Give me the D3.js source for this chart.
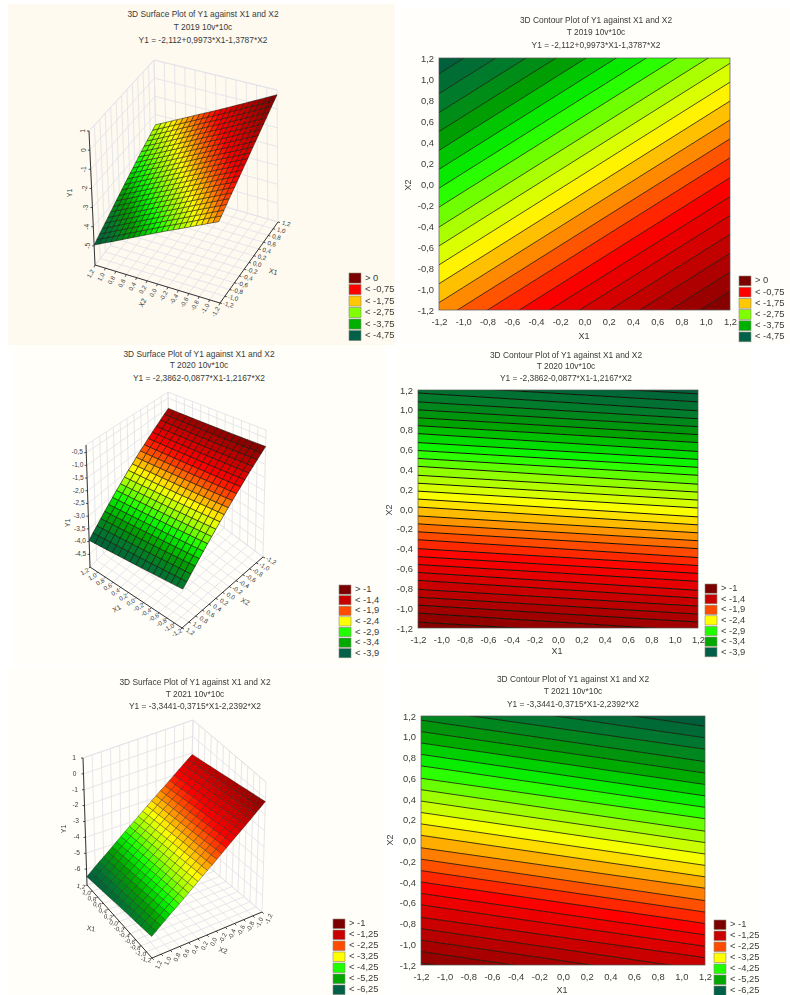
<!DOCTYPE html>
<html lang="en">
<head>
<meta charset="utf-8">
<title>Surface and contour plots of Y1 against X1 and X2</title>
<script src="https://d3js.org/d3.v7.min.js"></script>
<style>
  html, body { margin: 0; padding: 0; background: #fff; }
  svg { display: block; filter: blur(0.5px); font-family: "Liberation Sans", Arial, sans-serif; }
  text { fill: #3a3a3a; }
</style>
</head>
<body>
<svg id="chart" width="790" height="995"></svg>
<script>
// contour lines:
// level of the line, and its X2 where it meets the X1=-1,2 and X1=1,2 edges
var levels2019 = [-5, -4.75, -4.5, -4.25, -4, -3.75, -3.5, -3.25, -3, -2.75, -2.5, -2.25, -2, -1.75, -1.5, -1.25, -1, -0.75, -0.5, -0.25, 0, 0.25, 0.5, 0.75];
var left2019 = [1.23, 1.05, 0.86, 0.68, 0.5, 0.32, 0.14, -0.04, -0.22, -0.41, -0.59, -0.77, -0.95, -1.13, -1.31, -1.49, -1.68, -1.86, -2.04, -2.22, -2.4, -2.58, -2.76, -2.94];
var right2019 = [2.97, 2.79, 2.6, 2.42, 2.24, 2.06, 1.88, 1.7, 1.52, 1.33, 1.15, 0.97, 0.79, 0.61, 0.43, 0.25, 0.06, -0.12, -0.3, -0.48, -0.66, -0.84, -1.02, -1.2];

var levels2020 = [-4, -3.9, -3.8, -3.7, -3.6, -3.5, -3.4, -3.3, -3.2, -3.1, -3, -2.9, -2.8, -2.7, -2.6, -2.5, -2.4, -2.3, -2.2, -2.1, -2, -1.9, -1.8, -1.7, -1.6, -1.5, -1.4, -1.3, -1.2, -1.1, -1, -0.9, -0.8];
var left2020 = [1.41, 1.33, 1.25, 1.17, 1.08, 1, 0.92, 0.84, 0.76, 0.67, 0.59, 0.51, 0.43, 0.34, 0.26, 0.18, 0.1, 0.02, -0.07, -0.15, -0.23, -0.31, -0.4, -0.48, -0.56, -0.64, -0.72, -0.81, -0.89, -0.97, -1.05, -1.14, -1.22];
var right2020 = [1.24, 1.16, 1.08, 0.99, 0.91, 0.83, 0.75, 0.67, 0.58, 0.5, 0.42, 0.34, 0.25, 0.17, 0.09, 0.01, -0.08, -0.16, -0.24, -0.32, -0.4, -0.49, -0.57, -0.65, -0.73, -0.82, -0.9, -0.98, -1.06, -1.14, -1.23, -1.31, -1.39];

var levels2021 = [-6.5, -6.25, -6, -5.75, -5.5, -5.25, -5, -4.75, -4.5, -4.25, -4, -3.75, -3.5, -3.25, -3, -2.75, -2.5, -2.25, -2, -1.75, -1.5, -1.25, -1, -0.75, -0.5, -0.25, 0];
var left2021 = [1.61, 1.5, 1.39, 1.27, 1.16, 1.05, 0.94, 0.83, 0.72, 0.6, 0.49, 0.38, 0.27, 0.16, 0.05, -0.07, -0.18, -0.29, -0.4, -0.51, -0.62, -0.74, -0.85, -0.96, -1.07, -1.18, -1.29];
var right2021 = [1.21, 1.1, 0.99, 0.88, 0.76, 0.65, 0.54, 0.43, 0.32, 0.21, 0.09, -0.02, -0.13, -0.24, -0.35, -0.46, -0.58, -0.69, -0.8, -0.91, -1.02, -1.13, -1.25, -1.36, -1.47, -1.58, -1.69];

// tick labels
var xTicks = [-1.2, -1, -0.8, -0.6, -0.4, -0.2, 0, 0.2, 0.4, 0.6, 0.8, 1, 1.2];
var yTicks2019 = [1, 0, -1, -2, -3, -4, -5];
var yTicks2020 = [-0.5, -1, -1.5, -2, -2.5, -3, -3.5, -4, -4.5];
var yTicks2021 = [1, 0, -1, -2, -3, -4, -5, -6];

// legends
var legend2019 = ["> 0", "< -0,75", "< -1,75", "< -2,75", "< -3,75", "< -4,75"];
var legend2020 = ["> -1", "< -1,4", "< -1,9", "< -2,4", "< -2,9", "< -3,4", "< -3,9"];
var legend2021 = ["> -1", "< -1,25", "< -2,25", "< -3,25", "< -4,25", "< -5,25", "< -6,25"];

// titles
var title2019 = "T 2019 10v*10c", formula2019 = "Y1 = -2,112+0,9973*X1-1,3787*X2";
var title2020 = "T 2020 10v*10c", formula2020 = "Y1 = -2,3862-0,0877*X1-1,2167*X2";
var title2021 = "T 2021 10v*10c", formula2021 = "Y1 = -3,3441-0,3715*X1-2,2392*X2";

var svg = d3.select("#chart");
var comma = function(d) { return String(d).replace(".", ","); };
var comma1 = function(d) { return d.toFixed(1).replace(".", ","); };

// colour ramp over the level range of a plot
var ramp = d3.scaleLinear()
  .domain([0, 0.1, 0.2, 0.26, 0.31, 0.39, 0.49, 0.55, 0.62, 0.71, 0.85, 1])
  .range(["#00583f", "#007830", "#00a000", "#00d800", "#10ff00", "#90ff00", "#ffff00", "#ffb800", "#ff6000", "#ff0000", "#c00000", "#7d0000"]);

var swatches6 = ["#7d0000", "#ff0000", "#ffc800", "#80ff00", "#00b000", "#006048"];
var swatches7 = ["#7d0000", "#c80000", "#ff4c00", "#ffff00", "#20ff00", "#00a800", "#006048"];

// backgrounds of the pasted pictures
var backs = [
  [8, 4, 387, 341, "#fefaf0"], [400, 8, 390, 336, "#fffefa"],
  [14, 345, 372, 320, "#fffef9"], [398, 346, 352, 318, "#fffffb"],
  [8, 668, 377, 327, "#fffef9"], [400, 668, 360, 327, "#fffffb"]
];
svg.selectAll("rect.back").data(backs).enter().append("rect").attr("class", "back")
  .attr("x", function(d) { return d[0]; }).attr("y", function(d) { return d[1]; })
  .attr("width", function(d) { return d[2]; }).attr("height", function(d) { return d[3]; })
  .attr("fill", function(d) { return d[4]; });

function drawTitles(name, cx, ys, t, f) {
  svg.selectAll(null).data([name + " of Y1 against X1 and X2", t, f]).enter().append("text")
    .attr("x", cx).attr("y", function(d, i) { return ys[i]; })
    .attr("text-anchor", "middle").attr("dominant-baseline", "middle")
    .attr("font-size", 8.4).text(function(d) { return d; });
}

function drawLegend(labels, colors, o) {
  var g = svg.append("g");
  var row = g.selectAll("g").data(labels).enter().append("g")
    .attr("transform", function(d, i) { return "translate(" + o.x + "," + (o.y + i * o.step) + ")"; });
  row.append("rect").attr("width", 12).attr("height", o.step - 1.4)
    .attr("fill", function(d, i) { return colors[i]; })
    .attr("stroke", "#8a8a7a").attr("stroke-width", 0.6);
  row.append("text").attr("x", 16).attr("y", o.step / 2 - 0.6)
    .attr("dominant-baseline", "middle").attr("font-size", 9.4)
    .text(function(d) { return d; });
}

function drawContour(id, levels, left, right, o) {
  var x = d3.scaleLinear().domain([-1.2, 1.2]).range([o.x0, o.x1]);
  var y = d3.scaleLinear().domain([-1.2, 1.2]).range([o.y1, o.y0]);
  var extent = d3.extent(levels);
  var t = d3.scaleLinear().domain(extent).range([0, 1]);
  var line = d3.line().x(function(d) { return x(d[0]); }).y(function(d) { return y(d[1]); });

  svg.append("clipPath").attr("id", id).append("rect")
    .attr("x", o.x0).attr("y", o.y0).attr("width", o.x1 - o.x0).attr("height", o.y1 - o.y0);
  var g = svg.append("g").attr("clip-path", "url(#" + id + ")");

  // the bands, lowest level is top left of the plot
  var bands = d3.range(levels.length - 1);
  g.selectAll("path.band").data(bands).enter().append("path").attr("class", "band")
    .attr("d", function(i) {
      return line([[-1.2, left[i]], [1.2, right[i]], [1.2, right[i + 1]], [-1.2, left[i + 1]]]) + "Z";
    })
    .attr("fill", function(i) { return ramp(t((levels[i] + levels[i + 1]) / 2)); })
    .attr("stroke", function(i) { return ramp(t((levels[i] + levels[i + 1]) / 2)); })
    .attr("stroke-width", 0.3);

  g.selectAll("path.level").data(levels).enter().append("path").attr("class", "level")
    .attr("d", function(d, i) { return line([[-1.2, left[i]], [1.2, right[i]]]); })
    .attr("fill", "none").attr("stroke", "#141408").attr("stroke-width", o.lineWidth);

  svg.append("rect").attr("x", o.x0).attr("y", o.y0)
    .attr("width", o.x1 - o.x0).attr("height", o.y1 - o.y0)
    .attr("fill", "none").attr("stroke", "#555").attr("stroke-width", 0.7);

  var ax = svg.append("g").attr("transform", "translate(0," + o.y1 + ")")
    .call(d3.axisBottom(x).tickValues(xTicks).tickSize(0).tickPadding(8).tickFormat(comma1));
  var ay = svg.append("g").attr("transform", "translate(" + o.x0 + ",0)")
    .call(d3.axisLeft(y).tickValues(xTicks).tickSize(0).tickPadding(5).tickFormat(comma1));
  [ax, ay].forEach(function(a) {
    a.attr("font-family", null).attr("font-size", null);
    a.select(".domain").remove();
    a.selectAll("text").attr("font-size", 9.4);
  });

  svg.append("text").attr("x", o.lx[0]).attr("y", o.lx[1]).attr("text-anchor", "middle")
    .attr("dominant-baseline", "middle").attr("font-size", 9).text("X1");
  svg.append("text").attr("text-anchor", "middle").attr("dominant-baseline", "middle")
    .attr("font-size", 9)
    .attr("transform", "translate(" + o.ly[0] + "," + o.ly[1] + ") rotate(-90)").text("X2");
}

function drawSurface(id, levels, left, right, yTicks, o) {
  var extent = d3.extent(levels);
  var t = d3.scaleLinear().domain(extent).range([0, 1]);
  var w = d3.scaleLinear().domain(o.yDomain).range([0, 1]);
  // a runs from box corner A to B, b from B to C
  var aScale = d3.scaleLinear().domain(o.aDomain).range([0, 1]);
  var bScale = d3.scaleLinear().domain(o.bDomain).range([0, 1]);

  function project(a, b, h) {
    var q = [0, 1].map(function(k) {
      var f = o.floor, c = o.top;
      var p0 = f[0][k] * (1 - a) * (1 - b) + f[1][k] * a * (1 - b) + f[2][k] * a * b + f[3][k] * (1 - a) * b;
      var p1 = c[0][k] * (1 - a) * (1 - b) + c[1][k] * a * (1 - b) + c[2][k] * a * b + c[3][k] * (1 - a) * b;
      return p0 + (p1 - p0) * h;
    });
    return q;
  }

  // height of the surface, walking through the contour lines
  function heightAt(a, b) {
    var av = aScale.invert(a), bv = bScale.invert(b);
    var x1 = o.aAxis == "x1" ? av : bv;
    var x2 = o.aAxis == "x1" ? bv : av;
    var f = (x1 + 1.2) / 2.4;
    var cross = left.map(function(l, i) { return l + (right[i] - l) * f; });
    return d3.scaleLinear().domain(cross).range(levels)(x2);
  }

  var line = d3.line();
  var g = svg.append("g");

  // walls and floor
  var aT = xTicks.map(function(d) { return aScale(d); });
  var bT = xTicks.map(function(d) { return bScale(d); });
  var gridPaths = [];
  bT.forEach(function(b) {
    gridPaths.push([project(0, b, 0), project(1, b, 0)]);
    gridPaths.push([project(0, b, 0), project(0, b, 1)]);
  });
  aT.forEach(function(a) {
    gridPaths.push([project(a, 0, 0), project(a, 1, 0)]);
    gridPaths.push([project(a, 1, 0), project(a, 1, 1)]);
  });
  yTicks.concat(o.yDomain).forEach(function(d) {
    gridPaths.push([project(0, 0, w(d)), project(0, 1, w(d)), project(1, 1, w(d))]);
  });
  g.selectAll("path.grid").data(gridPaths).enter().append("path").attr("class", "grid")
    .attr("d", line).attr("fill", "none").attr("stroke", "#e2e2e8").attr("stroke-width", 0.85);

  // surface cells
  var cells = [];
  d3.range(o.cells[0]).forEach(function(i) {
    d3.range(o.cells[1]).forEach(function(j) { cells.push([i, j]); });
  });
  var na = o.cells[0], nb = o.cells[1];
  g.selectAll("path.cell").data(cells).enter().append("path").attr("class", "cell")
    .attr("d", function(c) {
      var a0 = c[0] / na, a1 = (c[0] + 1) / na, b0 = c[1] / nb, b1 = (c[1] + 1) / nb;
      return line([[a0, b0], [a1, b0], [a1, b1], [a0, b1]].map(function(p) {
        return project(p[0], p[1], w(heightAt(p[0], p[1])));
      })) + "Z";
    })
    .attr("fill", function(c) {
      return ramp(t(heightAt((c[0] + 0.5) / na, (c[1] + 0.5) / nb)));
    })
    .attr("stroke", "#141408").attr("stroke-width", o.mesh);

  // axes
  var dark = "#222";
  var axes = [
    { p: [project(0, 0, 0), project(0, 0, 1)] },
    { p: [project(0, 0, 0), project(1, 0, 0)] },
    { p: [project(1, 0, 0), project(1, 1, 0)] }
  ];
  g.selectAll("path.axis").data(axes).enter().append("path").attr("class", "axis")
    .attr("d", function(d) { return line(d.p); })
    .attr("fill", "none").attr("stroke", dark).attr("stroke-width", 0.9);

  function tickLabel(x, y, rot, txt, size) {
    g.append("text").attr("text-anchor", "middle").attr("dominant-baseline", "middle")
      .attr("font-size", size).attr("transform", "translate(" + x + "," + y + ") rotate(" + rot + ")")
      .text(txt);
  }

  xTicks.forEach(function(d) {
    var p = project(aScale(d), 0, 0);
    var q = project(1, bScale(d), 0);
    g.append("path").attr("d", line([p, [p[0] + o.aOff[0] * 0.25, p[1] + o.aOff[1] * 0.25]]))
      .attr("stroke", dark).attr("stroke-width", 0.8);
    g.append("path").attr("d", line([q, [q[0] + o.bOff[0] * 0.25, q[1] + o.bOff[1] * 0.25]]))
      .attr("stroke", dark).attr("stroke-width", 0.8);
    tickLabel(p[0] + o.aOff[0], p[1] + o.aOff[1], o.aRot, comma1(d), 6.2);
    tickLabel(q[0] + o.bOff[0], q[1] + o.bOff[1], o.bRot, comma1(d), 6.2);
  });

  yTicks.forEach(function(d) {
    var p = project(0, 0, w(d));
    g.append("path").attr("d", line([p, [p[0] - 2, p[1]]])).attr("stroke", dark).attr("stroke-width", 0.8);
    tickLabel(p[0] - o.yGap, p[1], o.yRot, o.yFormat(d), 6.6);
  });

  o.names.forEach(function(n) {
    tickLabel(n[1], n[2], n[3], n[0], 7);
  });
}

// panel layout
drawTitles("3D Surface Plot", 203, [15, 28, 41], title2019, formula2019);
drawSurface("s2019", levels2019, left2019, right2019, yTicks2019, {
  floor: [[95, 265], [220, 303], [278, 222], [157, 187]],
  top: [[89, 131], [218, 172], [277, 90], [154, 60]],
  yDomain: [-6, 1], aDomain: [1.2, -1.2], bDomain: [-1.2, 1.2], aAxis: "x2",
  cells: [22, 22], mesh: 0.5, aOff: [-4, 9], bOff: [8, 2], aRot: -60, bRot: 15, yRot: -90, yGap: 6,
  yFormat: comma,
  names: [["X2", 143, 303, -60], ["X1", 273, 272, 15], ["Y1", 70, 193, -90]]
});
drawLegend(legend2019, swatches6, { x: 349, y: 273, step: 11.5 });

drawTitles("3D Contour Plot", 596, [21, 33, 46], title2019, formula2019);
drawContour("c2019", levels2019, left2019, right2019, {
  x0: 439, x1: 730, y0: 58, y1: 310, lx: [584, 337], ly: [409, 185], lineWidth: 0.75
});
drawLegend(legend2019, swatches6, { x: 739, y: 276, step: 11.2 });

drawTitles("3D Surface Plot", 199, [355, 366, 379], title2020, formula2020);
drawSurface("s2020", levels2020, left2020, right2020, yTicks2020, {
  floor: [[90, 567], [182, 628], [263, 557], [170, 487]],
  top: [[86, 445], [185, 480], [266, 430], [168, 392]],
  yDomain: [-5, -0.2], aDomain: [1.2, -1.2], bDomain: [1.2, -1.2], aAxis: "x1",
  cells: [16, 20], mesh: 0.6, aOff: [-5, 5], bOff: [8, 4], aRot: -30, bRot: 30, yRot: 0, yGap: 9,
  yFormat: comma1,
  names: [["X1", 117, 609, -30], ["X2", 245, 602, 30], ["Y1", 68, 523, -90]]
});
drawLegend(legend2020, swatches7, { x: 339, y: 585, step: 10.6 });

drawTitles("3D Contour Plot", 566, [356, 367, 379], title2020, formula2020);
drawContour("c2020", levels2020, left2020, right2020, {
  x0: 418, x1: 698, y0: 390, y1: 628, lx: [557, 652], ly: [390, 510], lineWidth: 1
});
drawLegend(legend2020, swatches7, { x: 705, y: 584, step: 10.6 });

drawTitles("3D Surface Plot", 195, [683, 695, 707], title2021, formula2021);
drawSurface("s2021", levels2021, left2021, right2021, yTicks2021, {
  floor: [[87, 885], [152, 958], [262, 912], [190, 851]],
  top: [[83, 758], [150, 836], [266, 782], [193, 720]],
  yDomain: [-7, 1], aDomain: [1.2, -1.2], bDomain: [1.2, -1.2], aAxis: "x1",
  cells: [12, 24], mesh: 0.35, aOff: [-6, 2], bOff: [7, 7], aRot: 10, bRot: -65, yRot: 0, yGap: 9,
  yFormat: comma,
  names: [["X1", 91, 929, 10], ["X2", 223, 951, 20], ["Y1", 64, 829, -90]]
});
drawLegend(legend2021, swatches7, { x: 333, y: 919, step: 11 });

drawTitles("3D Contour Plot", 573, [680, 692, 705], title2021, formula2021);
drawContour("c2021", levels2021, left2021, right2021, {
  x0: 421, x1: 705, y0: 716, y1: 965, lx: [562, 991], ly: [391, 840], lineWidth: 0.8
});
drawLegend(legend2021, swatches7, { x: 714, y: 920, step: 11 });
</script>
</body>
</html>
